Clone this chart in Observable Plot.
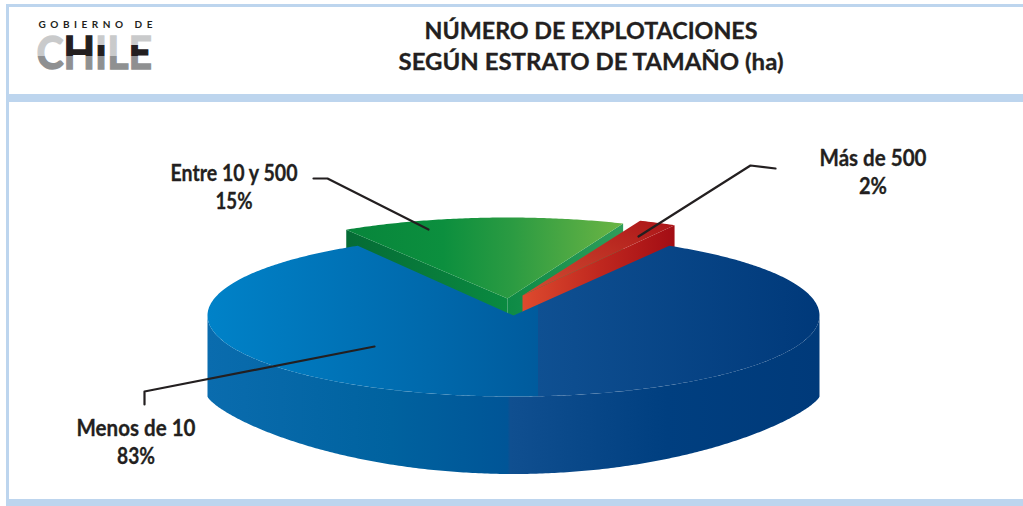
<!DOCTYPE html>
<html><head><meta charset="utf-8">
<script src="https://cdn.jsdelivr.net/npm/d3@7"></script>
<script src="https://cdn.jsdelivr.net/npm/@observablehq/plot@0.6"></script>
<style>html,body{margin:0;padding:0;background:#fff;overflow:hidden}svg{display:block;background:#fff}</style>
</head><body><div id="chart"></div>
<script>
// ---- data ----
const categories = ["Menos de 10", "Entre 10 y 500", "Más de 500"];
const shares = [83, 15, 2];
const titleLines = ["NÚMERO DE EXPLOTACIONES", "SEGÚN ESTRATO DE TAMAÑO (ha)"];
const logoTop = "GOBIERNO DE";
const logoWord = "CHILE";

// ---- geometry of the drawing (not data) ----
const W = 1023, H = 506;
const pie = {cx: 513, cy: 315, rx: 306, ry: 81, wallTop: 396, depth: 77.5};
const explode = [{dx: 0, dy: 0, tilt: 0}, {dx: -6, dy: -17, tilt: -1.2}, {dx: 9, dy: -20, tilt: -0.8}];
const labelPos = [
  {x: 135.5, y: 435, w: 119, w2: 38}, {x: 233.5, y: 180, w: 127, w2: 37}, {x: 872.5, y: 165, w: 107, w2: 28}
];
const leaders = [
  [[374, 346], [144, 391], [144, 404]],
  [[313, 178], [327, 178], [428, 229]],
  [[775, 168], [750, 165], [638, 236]]
];
const bands = [
  {x1: 6, x2: W, y1: 4, y2: 7}, {x1: 6, x2: 9, y1: 4, y2: 506},
  {x1: 6, x2: W, y1: 94, y2: 102}, {x1: 6, x2: W, y1: 499, y2: 506}
];
const titleWidths = [333, 385];

// ---- pie layout ----
const gap = (shares[1] + shares[2]) / 100 * Math.PI;
const arcs = d3.pie().sort(null).startAngle(gap).endAngle(gap + 2 * Math.PI)(shares);
function arcPts(a0, a1, cx, cy) {
  const n = Math.max(2, Math.ceil(Math.abs(a1 - a0) / 0.01));
  return d3.range(n + 1).map(i => {
    const a = a0 + (a1 - a0) * i / n;
    return {x: cx + pie.rx * Math.sin(a), y: cy - pie.ry * Math.cos(a)};
  });
}
function corners(i) {
  const t = explode[i].tilt * Math.PI / 180;
  const c = {x: pie.cx + explode[i].dx, y: pie.cy + explode[i].dy};
  return {c, arc: arcPts(arcs[i].startAngle + t, arcs[i].endAngle + t, c.x, c.y)};
}
function topFace(i) {
  const {c, arc} = corners(i);
  return [c, ...arc];
}
// a straight wall hanging below the cut from the apex to one end of the arc
function cutWall(i, end, d) {
  const {c, arc} = corners(i);
  const p = end ? arc[arc.length - 1] : arc[0];
  return [c, p, {x: p.x, y: p.y + d}, {x: c.x, y: c.y + d}];
}
const upper = arcPts(Math.PI / 2, 3 * Math.PI / 2, pie.cx, pie.cy);
const lower = upper.slice().reverse().map(p => {
  const u = (p.x - pie.cx) / pie.rx;
  return {x: p.x, y: pie.wallTop + pie.depth * Math.pow(Math.max(0, 1 - u * u), 0.75)};
});
const blueWall = [...upper, ...lower];

const stops = s => s.map(([o, c]) => `<stop offset="${o}" stop-color="${c}"/>`).join("");
const grad = (id, s, attrs = 'x1="0" x2="1" y1="0" y2="0"') => `<linearGradient id="${id}" ${attrs}>${stops(s)}</linearGradient>`;
const light = "#c9cacb", dark = "#231f20", gray = "#8f9091";
const defsHtml = [
  grad("blueTop", [[0, "#0082c8"], [.36, "#0069ac"], [.54, "#005b9d"], [.54, "#0f5092"], [1, "#00397a"]]),
  grad("blueWall", [[0, "#0a6cae"], [.3, "#00629f"], [.49, "#005597"], [.495, "#104f90"], [.75, "#003f80"], [1, "#003a7a"]]),
  grad("greenTop", [[0, "#07853b"], [.35, "#0c8f3e"], [.6, "#2b9b42"], [1, "#6cb544"]]),
  grad("greenWallL", [[0, "#056b35"], [1, "#0a8a40"]]),
  grad("greenWallR", [[0, "#0d8a45"], [1, "#2f9e5b"]]),
  grad("redTop", [[0, "#d14d33"], [.6, "#bc2d22"], [1, "#ab1418"]], 'x1="0" x2="1" y1="1" y2="0"'),
  grad("redWall", [[0, "#dd4a2e"], [.5, "#c0281f"], [1, "#a30d14"]])
].join("");
const defs = () => {
  const g = document.createElementNS("http://www.w3.org/2000/svg", "defs");
  g.innerHTML = defsHtml;
  return g;
};

const face = (pts, fill) => Plot.line(pts, {x: "x", y: "y", fill, stroke: "none", curve: "linear"});
const font = "Lato";
const ink = "#231f20";
const labelRows = categories.flatMap((c, i) => [
  {x: labelPos[i].x, y: labelPos[i].y, t: c, w: labelPos[i].w},
  {x: labelPos[i].x, y: labelPos[i].y + 28.5, t: shares[i] + "%", w: labelPos[i].w2}
]);
const leaderRows = leaders.flatMap((l, i) => l.map(([x, y]) => ({x, y, i})));

const chart = Plot.plot({
  width: W, height: H, margin: 0,
  x: {domain: [0, W], range: [0, W], axis: null},
  y: {domain: [0, H], range: [0, H], axis: null},
  style: {background: "#fff"},
  marks: [
    defs,
    Plot.rect(bands, {x1: "x1", x2: "x2", y1: "y1", y2: "y2", fill: "#bdd5ee"}),
    face(cutWall(1, false, 40), "url(#greenWallL)"),
    face(cutWall(1, true, 40), "url(#greenWallR)"),
    face(topFace(1), "url(#greenTop)"),
    face(cutWall(2, true, 40), "url(#redWall)"),
    face(topFace(2), "url(#redTop)"),
    face(blueWall, "url(#blueWall)"),
    face(topFace(0), "url(#blueTop)"),
    Plot.line(leaderRows, {x: "x", y: "y", z: "i", stroke: ink, strokeWidth: 2.2, curve: "linear"}),
    Plot.text(labelRows, {x: "x", y: "y", text: "t", className: "lab", lineAnchor: "bottom", fontFamily: font, fontWeight: 700, fontSize: 22, fill: ink, stroke: ink, strokeWidth: 0.3}),
    Plot.text(titleLines, {x: () => 590.5, y: (d, i) => 38.5 + i * 31, text: d => d, className: "ttl", lineAnchor: "bottom", fontFamily: font, fontWeight: 700, fontSize: 23, fill: ink, stroke: ink, strokeWidth: 0.3}),
    Plot.text([logoTop], {x: () => 95, y: () => 27, text: d => d, className: "top", lineAnchor: "bottom", fontFamily: font, fontWeight: 700, fontSize: 10, fill: ink}),
    Plot.text([logoWord], {x: () => 36, y: () => 68.5, text: d => d, className: "word", textAnchor: "start", lineAnchor: "bottom", fontFamily: font, fontWeight: 700, fontSize: 46, fill: ink})
  ]
});
const fit = (sel, w, adjust) => chart.querySelectorAll(sel + " text").forEach((t, i) => {
  t.setAttribute("textLength", Array.isArray(w) ? w[i] : w);
  t.setAttribute("lengthAdjust", adjust);
});
fit(".lab", labelRows.map(d => d.w), "spacingAndGlyphs");
fit(".ttl", titleWidths, "spacingAndGlyphs");
fit(".top", 114, "spacing");
fit(".word", 115.5, "spacingAndGlyphs");

// the logotype's letters are split into light, dark and grey horizontal bands
const capTop = -33, capBottom = 0;
const split = (id, s) => {
  const g = document.createElementNS("http://www.w3.org/2000/svg", "linearGradient");
  g.id = id;
  g.setAttribute("gradientUnits", "userSpaceOnUse");
  g.setAttribute("x1", 0); g.setAttribute("x2", 0);
  g.setAttribute("y1", capTop); g.setAttribute("y2", capBottom);
  g.innerHTML = stops(s);
  chart.querySelector("defs").append(g);
};
split("lgA", [[0, light], [.6, light], [.6, gray], [1, gray]]);
split("lgB", [[0, dark], [.6, dark], [.6, gray], [1, gray]]);
split("lgC", [[0, light], [.27, light], [.27, dark], [.6, dark], [.6, gray], [1, gray]]);
const word = chart.querySelector(".word text");
const letterBands = ["lgA", "lgB", "lgC", "lgA", "lgC"];
word.textContent = "";
[...logoWord].forEach((ch, i) => {
  const s = document.createElementNS("http://www.w3.org/2000/svg", "tspan");
  s.textContent = ch;
  s.setAttribute("fill", `url(#${letterBands[i]})`);
  s.setAttribute("stroke", `url(#${letterBands[i]})`);
  s.setAttribute("stroke-width", 1.4);
  word.append(s);
});
document.getElementById("chart").append(chart);
</script>
</body></html>
